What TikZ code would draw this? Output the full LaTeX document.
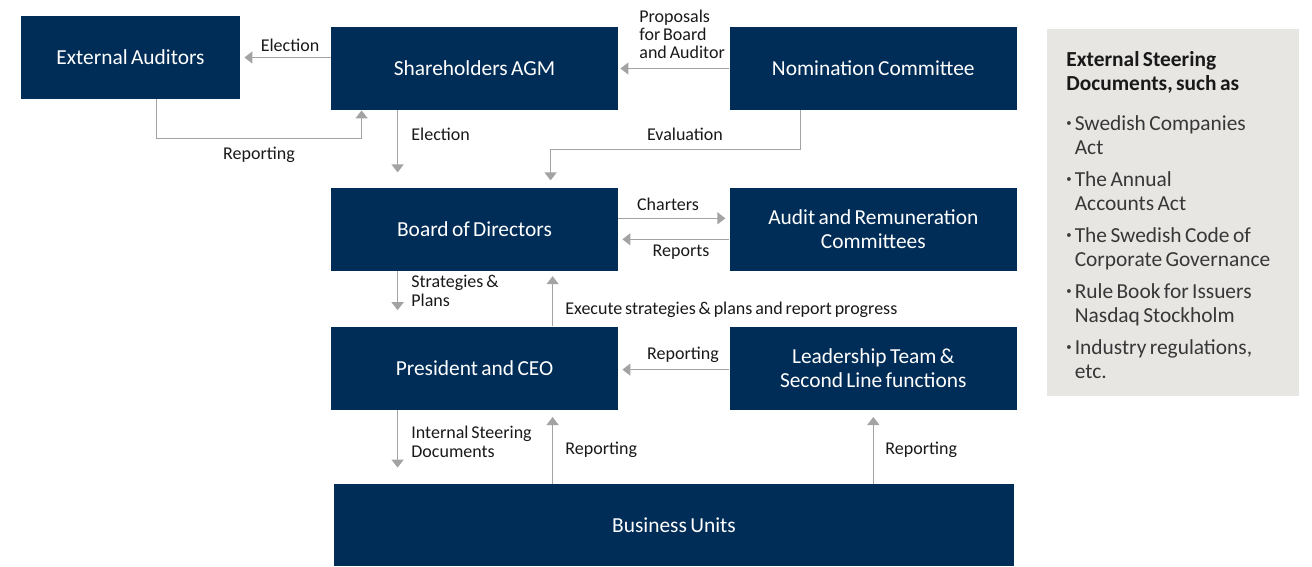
\documentclass[tikz,border=0pt]{standalone}
\usepackage{fontspec}
\setmainfont{Carlito}[WordSpace=0.7]
\usetikzlibrary{arrows.meta, positioning, calc}
\definecolor{navy}{RGB}{0,45,87}
\definecolor{linegrey}{RGB}{163,163,163}
\definecolor{sidegrey}{RGB}{231,230,227}
\definecolor{ink}{RGB}{25,25,25}
\definecolor{softink}{RGB}{55,55,55}
\newcommand{\bul}{\makebox[4.2pt][l]{\raisebox{0.4ex}{\scalebox{0.5}{\textbullet}}}}

\begin{document}
\begin{tikzpicture}[
  x=0.5pt, y=-0.5pt,
  box/.style={fill=navy, text=white, align=center, inner sep=2pt,
              minimum width=143.5pt, minimum height=41.5pt,
              font=\fontsize{10.7}{12}\selectfont},
  lbl/.style={font=\fontsize{9}{9}\selectfont, text=ink, inner sep=0pt, align=left},
  a/.style={-{Triangle[length=4pt, width=6pt]}, draw=linegrey, line width=0.75pt},
  side/.style={fill=sidegrey, minimum width=126pt, minimum height=183.5pt, inner sep=0pt}
]
\useasboundingbox (0,0) rectangle (1312,567);

% ---------- governance boxes ----------
\node[box] (agm) at (474.5,68.5) {Shareholders AGM};
\node[box, right=55.5pt of agm] (nom) {Nomination Committee};
\node[box, minimum width=109.5pt] (extaud) at (130.5,57.5) {External Auditors};
\node[box, below=38.5pt of agm] (board) {Board of Directors};
\node[box, right=55.5pt of board] (audit) {Audit and Remuneration\\Committees};
\node[box, below=27.5pt of board] (ceo) {President and CEO};
\node[box, right=55.5pt of ceo] (lead) {Leadership Team \&\\Second Line functions};
\node[box, minimum width=340pt, minimum height=41pt] (bu) at (674,525) {Business Units};

% ---------- connectors ----------
\draw[a, shorten >=2pt] (agm.west |- extaud.east) -- (extaud.east);
\draw[a] ([xshift=68pt]extaud.south west) -- ++(0,39) -| ([xshift=15.5pt]agm.south west);
\draw[a, shorten >=1pt] (nom.west) -- (agm.east);
\draw[a, shorten >=7.5pt] ([xshift=33.5pt]agm.south west) -- ([xshift=33.5pt]board.north west);
\draw[a, shorten >=3.5pt] ([xshift=35.5pt]nom.south west) -- ++(0,39) -| ([xshift=110pt]board.north west);
\draw[a, shorten >=2pt] ([yshift=5.5pt]board.east) -- ([yshift=5.5pt]audit.west);
\draw[a, shorten >=2pt] ([yshift=-5pt]audit.west) -- ([yshift=-5pt]board.east);
\draw[a, shorten >=8pt] ([xshift=33.5pt]board.south west) -- ([xshift=33.5pt]ceo.north west);
\draw[a, shorten >=2.5pt] ([xshift=111pt]ceo.north west) -- ([xshift=111pt]board.south west);
\draw[a, shorten >=2pt] ([yshift=-0.75pt]lead.west) -- ([yshift=-0.75pt]ceo.east);
\draw[a, shorten >=8pt] ([xshift=33.5pt]ceo.south west) -- ([xshift=33.5pt]ceo.south west |- bu.north);
\draw[a, shorten >=3.5pt] ([xshift=111pt]ceo.south west |- bu.north) -- ([xshift=111pt]ceo.south west);
\draw[a, shorten >=3.5pt] (lead.south |- bu.north) -- (lead.south);

% ---------- connector labels ----------
\node[lbl] (lelecaud) at (290,45) {Election};
\node[lbl] (lrepaud) at (259,155) {Reporting};
\node[lbl, anchor=west, font=\fontsize{9}{9}\selectfont] (lprop) at (639,34) {Proposals\\for Board\\and Auditor};
\node[lbl, anchor=west] (lelecboard) at (411,134) {Election};
\node[lbl] (leval) at (685,134) {Evaluation};
\node[lbl] (lcharters) at (668,204) {Charters};
\node[lbl] (lreports) at (681,252) {Reports};
\node[lbl, anchor=west, font=\fontsize{9}{9.5}\selectfont] (lstrat) at (411,290.5) {Strategies \&\\Plans};
\node[lbl, anchor=west] (lexec) at (565,310) {Execute strategies \& plans and report progress};
\node[lbl] (lreplead) at (683,355) {Reporting};
\node[lbl, anchor=west, font=\fontsize{9}{9.5}\selectfont] (linternal) at (411,441.5) {Internal Steering\\Documents};
\node[lbl, anchor=west] (lrepbu) at (565,450) {Reporting};
\node[lbl, anchor=west] (lrepbutwo) at (885,450) {Reporting};

% ---------- external steering documents ----------
\node[side] (extdocs) at (1173,212.5) {};
\node[anchor=north west, inner sep=0pt, align=flush left, text width=114pt, text=softink,
      font=\fontsize{10.7}{12}\selectfont] (extlist) at (1066,51)
  {{\bfseries\color{ink}External Steering\\Documents, such as}\\[8pt]
   \bul Swedish Companies\\ \hspace*{4.2pt}Act\\[4pt]
   \bul The Annual\\ \hspace*{4.2pt}Accounts Act\\[4pt]
   \bul The Swedish Code of\\ \hspace*{4.2pt}Corporate Governance\\[4pt]
   \bul Rule Book for Issuers\\ \hspace*{4.2pt}Nasdaq Stockholm\\[4pt]
   \bul Industry regulations,\\ \hspace*{4.2pt}etc.};

\end{tikzpicture}
\end{document}
